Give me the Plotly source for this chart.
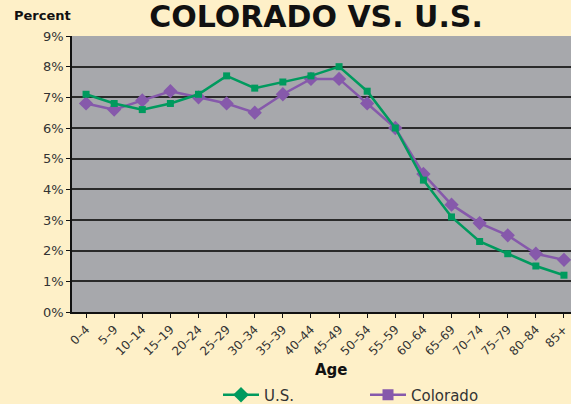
import plotly.graph_objects as go

ages = ["0–4", "5–9", "10–14", "15–19", "20–24", "25–29", "30–34", "35–39", "40–44",
        "45–49", "50–54", "55–59", "60–64", "65–69", "70–74", "75–79", "80–84", "85+"]
us = [7.1, 6.8, 6.6, 6.8, 7.1, 7.7, 7.3, 7.5, 7.7, 8.0, 7.2, 6.0, 4.3, 3.1, 2.3, 1.9, 1.5, 1.2]
colorado = [6.8, 6.6, 6.9, 7.2, 7.0, 6.8, 6.5, 7.1, 7.6, 7.6, 6.8, 6.0, 4.5, 3.5, 2.9, 2.5, 1.9, 1.7]
y_ticks = [0, 1, 2, 3, 4, 5, 6, 7, 8, 9]
y_labels = [f"{v}%" for v in y_ticks]

GREEN = "#009A5E"
PURPLE = "#8659AB"
BG = "#FEF0C8"
PLOT_BG = "#A7A8AC"
FONT = "DejaVu Sans, sans-serif"

xi = list(range(len(ages)))

fig = go.Figure()
fig.add_trace(go.Scatter(x=xi, y=colorado, mode="lines+markers", name="Colorado",
                         line=dict(color=PURPLE, width=2.5),
                         marker=dict(symbol="diamond", size=11, color=PURPLE),
                         showlegend=False, cliponaxis=False))
fig.add_trace(go.Scatter(x=xi, y=us, mode="lines+markers", name="U.S.",
                         line=dict(color=GREEN, width=2.5),
                         marker=dict(symbol="square", size=7, color=GREEN),
                         showlegend=False, cliponaxis=False))
# legend entries (reference legend shows swapped marker shapes)
fig.add_trace(go.Scatter(x=[None], y=[None], mode="lines+markers", name="U.S.",
                         line=dict(color=GREEN, width=2.5),
                         marker=dict(symbol="diamond", size=12, color=GREEN)))
fig.add_trace(go.Scatter(x=[None], y=[None], mode="lines+markers", name="Colorado",
                         line=dict(color=PURPLE, width=2.5),
                         marker=dict(symbol="square", size=11, color=PURPLE)))

fig.update_layout(
    width=571, height=404,
    margin=dict(l=72, r=0, t=36, b=92, autoexpand=False),
    paper_bgcolor=BG, plot_bgcolor=PLOT_BG,
    font=dict(family=FONT, color="#222", size=13),
    title=dict(text="<b>COLORADO VS. U.S.</b>", x=316/571, xanchor="center",
               y=1 - 16/404, yanchor="middle", automargin=False,
               font=dict(family=FONT, size=30, color="#111")),
    legend=dict(orientation="h", x=218/571, xanchor="left", xref="container",
                y=-83/276, yanchor="middle",
                bgcolor="rgba(0,0,0,0)", font=dict(size=15, color="#333"),
                itemwidth=36, entrywidth=96, entrywidthmode="pixels", tracegroupgap=0),
    annotations=[
        dict(text="<b>Percent</b>", xref="paper", yref="paper", x=-60/499, y=1 + 20/276,
             xanchor="left", yanchor="middle", showarrow=False,
             font=dict(family=FONT, size=13, color="#111")),
        dict(text="<b>Age</b>", xref="paper", yref="paper", x=(331-72)/499, y=-58/276,
             xanchor="center", yanchor="middle", showarrow=False,
             font=dict(family=FONT, size=15, color="#111")),
    ],
)
fig.update_xaxes(
    tickmode="array", tickvals=xi, ticktext=ages, tickangle=-45,
    range=[-0.5, 17.25], showgrid=False, zeroline=False, automargin=False,
    showline=True, linecolor="#111", linewidth=1.5,
    ticks="outside", tickson="boundaries", ticklen=4, tickcolor="#111",
    tickfont=dict(size=12, color="#333"),
)
fig.update_yaxes(
    range=[0, 9], tickmode="array", tickvals=y_ticks, ticktext=y_labels,
    showgrid=True, gridcolor="#2a2a2a", gridwidth=1.5, zeroline=False, automargin=False,
    showline=True, linecolor="#111", linewidth=1.5,
    ticks="outside", ticklen=4, tickcolor="#111",
    tickfont=dict(size=13, color="#333"),
)

fig.write_html("out.html", config={"displayModeBar": False},
               post_script="document.body.style.margin='0';document.body.style.background='%s';" % BG)
